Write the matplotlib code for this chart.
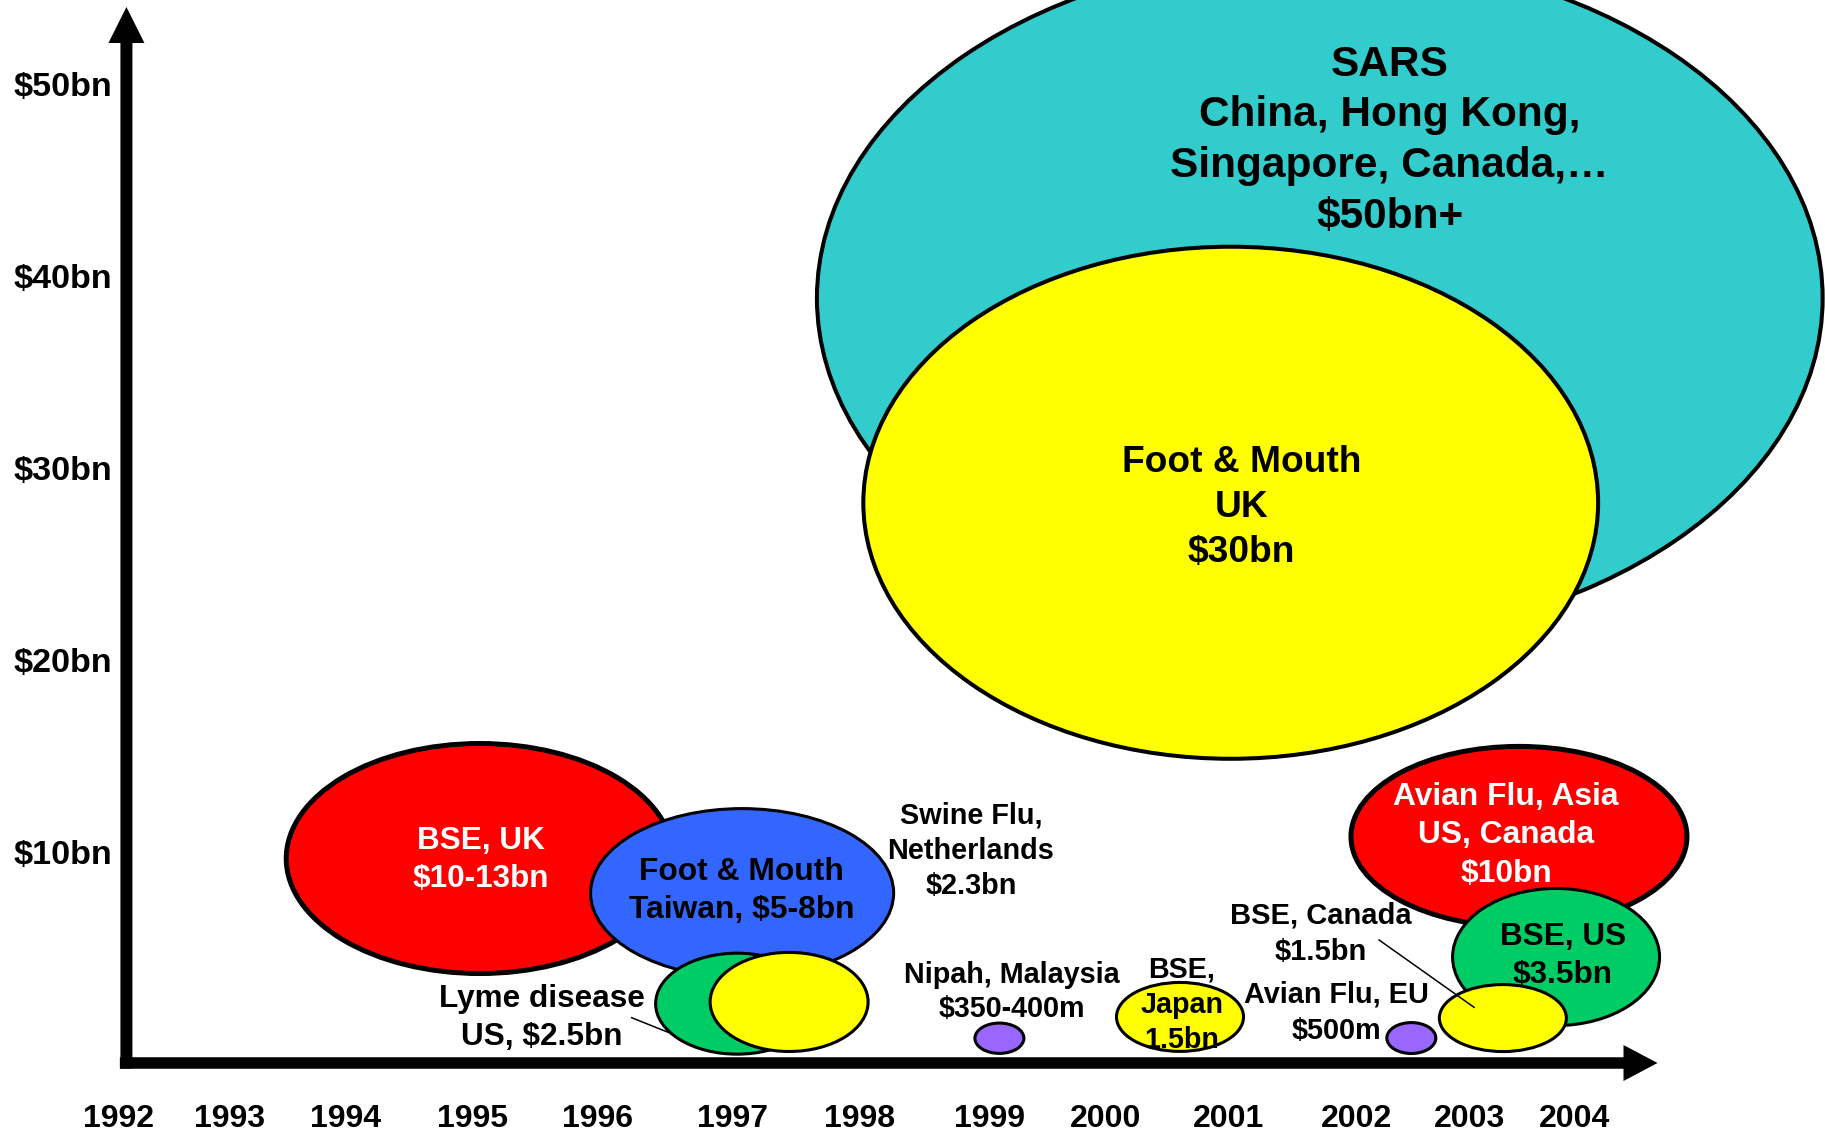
import matplotlib
matplotlib.use("Agg")
import matplotlib.pyplot as plt
from matplotlib.patches import Ellipse, FancyArrow

plt.rcParams['font.family'] = ['Liberation Sans', 'DejaVu Sans']
plt.rcParams['font.weight'] = 'bold'

# ---------------- data ----------------
# bubbles: centre (year, $bn) and extent (years, $bn)
bubble_names = ['SARS', 'Foot & Mouth, UK', 'BSE, UK', 'Foot & Mouth, Taiwan',
                'Lyme disease, US', 'Swine Flu, Netherlands', 'Nipah, Malaysia',
                'BSE, Japan', 'Avian Flu, EU', 'Avian Flu, Asia', 'BSE, US', 'BSE, Canada']
bubble_year = [2001.78, 2001.06, 1994.99, 1997.11, 1997.07, 1997.49, 1999.19,
               2000.65, 2002.52, 2003.39, 2003.69, 2003.26]
bubble_cost = [38.85, 28.19, 9.66, 7.86, 2.10, 2.19, 0.30, 1.41, 0.31, 10.80, 4.53, 1.35]
bubble_width = [8.13, 5.94, 3.13, 2.45, 1.318, 1.277, 0.396, 1.027, 0.396, 2.716, 1.673, 1.027]
bubble_height = [35.73, 26.67, 11.98, 8.80, 5.26, 5.16, 1.58, 3.59, 1.61, 9.40, 7.14, 3.49]
bubble_color = ['#33CCCC', '#FFFF00', '#FF0000', '#3366FF', '#00CC66', '#FFFF00',
                '#9966FF', '#FFFF00', '#9966FF', '#FF0000', '#00CC66', '#FFFF00']
bubble_lw = [2.9, 2.9, 3.6, 2.2, 2.2, 2.2, 2.2, 2.2, 2.2, 3.6, 2.2, 2.2]

# labels: lines, centre x (year), first baseline ($bn), line step ($bn), size, colour
label_lines = [
    ["SARS", "China, Hong Kong,", "Singapore, Canada,\u2026", "$50bn+"],
    ["Foot & Mouth", "UK", "$30bn"],
    ["BSE, UK", "$10-13bn"],
    ["Foot & Mouth", "Taiwan, $5-8bn"],
    ["Lyme disease", "US, $2.5bn"],
    ["Swine Flu,", "Netherlands", "$2.3bn"],
    ["Nipah, Malaysia", "$350-400m"],
    ["BSE,", "Japan", "1.5bn"],
    ["BSE, Canada", "$1.5bn"],
    ["Avian Flu, EU", "$500m"],
    ["Avian Flu, Asia", "US, Canada", "$10bn"],
    ["BSE, US", "$3.5bn"],
]
label_x = [2002.344, 2001.147, 1995.0, 1997.105, 1995.488, 1998.960, 1999.288,
           2000.666, 2001.790, 2001.911, 2003.285, 2003.746]
label_y = [50.43, 29.79, 10.14, 8.54, 1.91, 11.49, 3.19, 3.47, 6.25, 2.15, 12.45, 5.16]
label_step = [2.64, 2.35, 1.94, 1.99, 1.96, 1.84, 1.80, 1.85, 1.875, 1.91, 1.995, 1.995]
label_size = [30.5, 26.7, 22.7, 22.9, 22.7, 20.8, 20.7, 20.7, 21.0, 20.8, 22.9, 22.7]
label_color = ['black', 'black', 'white', 'black', 'black', 'black', 'black',
               'black', 'black', 'black', 'white', 'black']

# leader lines (year, $bn)
lyme_leader_x = [1996.217, 1996.527]
lyme_leader_y = [1.37, 0.57]
canada_leader_x = [2002.259, 2003.027]
canada_leader_y = [5.417, 1.911]

# axis labels
y_values = [10, 20, 30, 40, 50]
y_labels = ['$10bn', '$20bn', '$30bn', '$40bn', '$50bn']
year_labels = ['1992', '1993', '1994', '1995', '1996', '1997', '1998', '1999',
               '2000', '2001', '2002', '2003', '2004']
year_label_pos = [1992.07, 1992.97, 1993.90, 1994.93, 1995.94, 1997.03, 1998.06,
                  1999.11, 2000.05, 2001.04, 2002.08, 2002.99, 2003.84]

# ---------------- layout ----------------
PX_YEAR = 123.7     # pixels per year
PX_BN = 19.2        # pixels per $bn

fig = plt.figure(figsize=(18.25, 11.35), dpi=100)
ax = fig.add_axes([0, 0, 1, 1])
ax.set_xlim(1991.111, 2005.864)
ax.set_ylim(-4.740, 54.375)
ax.axis('off')

# bubbles
z = 2
for i in range(len(bubble_names)):
    if bubble_names[i] == 'Lyme disease, US':
        ax.plot(lyme_leader_x, lyme_leader_y, color='black', lw=1.1, zorder=z)
        z += 1
    e = Ellipse((bubble_year[i], bubble_cost[i]), bubble_width[i], bubble_height[i],
                facecolor=bubble_color[i], edgecolor='black', lw=bubble_lw[i], zorder=z)
    ax.add_patch(e)
    z += 1

ax.plot(canada_leader_x, canada_leader_y, color='black', lw=1.1, zorder=z)
z += 1

# labels
for lines, x, y, step, size, col in zip(label_lines, label_x, label_y, label_step,
                                         label_size, label_color):
    for k, line in enumerate(lines):
        ax.text(x, y - k * step, line, ha='center', va='baseline', fontsize=size,
                color=col, fontweight='bold', zorder=z, parse_math=False)

# axes arrows
ax_x0 = 1992.133   # y-axis position (year units)
ax_y0 = -0.99      # x-axis position ($bn units)
ax.add_patch(FancyArrow(ax_x0, -1.28, 0, 54.01 + 1.28, width=12 / PX_YEAR,
                        head_width=36 / PX_YEAR, head_length=36 / PX_BN,
                        length_includes_head=True, color='black', lw=0, zorder=z))
ax.add_patch(FancyArrow(1992.08, ax_y0, 2004.51 - 1992.08, 0, width=11.5 / PX_BN,
                        head_width=36 / PX_BN, head_length=34 / PX_YEAR,
                        length_includes_head=True, color='black', lw=0, zorder=z))

# y labels
for v, lab in zip(y_values, y_labels):
    ax.annotate(lab, xy=(1992.016, v), xytext=(0, -8.8), textcoords='offset points',
                ha='right', va='baseline', fontsize=24.6, fontweight='bold',
                parse_math=False)

# year labels
for pos, lab in zip(year_label_pos, year_labels):
    ax.text(pos, -4.33, lab, ha='center', va='baseline', fontsize=23,
            fontweight='bold')

fig.savefig('out.png', dpi=100, facecolor='white')
